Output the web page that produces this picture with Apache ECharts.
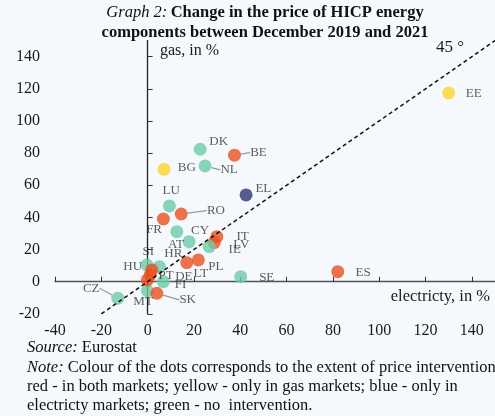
<!DOCTYPE html>
<html><head><meta charset="utf-8">
<script src="https://cdn.jsdelivr.net/npm/echarts@6/dist/echarts.min.js"></script>
<style>html,body{margin:0;padding:0;background:#f5f9fd;}#c{width:495px;height:416px;}</style>
</head><body><div id="c"></div>
<script>
// ---- data ----
const countries = ['EE','DK','BE','BG','NL','EL','LU','RO','FR','CY','AT','IT','LV','IE','PL','LT','SE','ES','CZ','MT','SK','FI','DE','HU','SI','PT','HR'];
const electricity = [130, 22.7, 37.5, 7.1, 24.8, 42.5, 9.4, 14.5, 6.8, 12.6, 17.9, 29.9, 28.7, 26.6, 21.9, 16.9, 40.2, 82.1, -12.9, -0.1, 4.0, 6.8, 5.1, -0.3, 1.8, 1.1, -0.1];
const gas =         [117.4, 82.4, 78.7, 69.9, 72, 54, 47.1, 42.1, 39, 31.1, 24.9, 28, 24.3, 21.8, 13.5, 11.8, 3.1, 6.2, -10.3, -5.6, -7.2, 0, 9.3, 10.4, 7.3, 4.2, 1.1];
// intervention: r = both markets, y = only gas, b = only electricity, g = none
const intervention = ['y','g','r','y','g','b','g','r','r','g','g','r','r','g','r','r','g','r','g','g','r','g','g','g','r','r','r'];
const xTicks = [-40, -20, 0, 20, 40, 60, 80, 100, 120, 140];
const yTicks = [-20, 0, 20, 40, 60, 80, 100, 120, 140];
const diagonalRange = [-20, 150];

// ---- styling (label placement relative to dot centre, px) ----
const labelOffsets = {
  EE:[25,1], DK:[18.5,-7.6], BE:[24,-2.6], BG:[22.7,-1.6], NL:[24,4], EL:[17.3,-6.7],
  LU:[1.7,-15], RO:[34.7,-3.3], FR:[-9.3,11], CY:[23.3,-0.7], AT:[-13.2,3.3], IT:[25.8,0],
  LV:[27.3,1.6], IE:[25.5,2.6], PL:[17.5,6.7], LT:[14,11.3], SE:[26,1], ES:[25.3,1],
  CZ:[-26.5,-10], MT:[-4.3,11], SK:[30.8,6.7], FI:[17.2,3.3], DE:[24.4,10], HU:[-14.2,1.7],
  SI:[-3.4,-18.3], PT:[16,1], HR:[26,-26]
};
const leader = {BE:true, NL:true, RO:true, CZ:true, SK:true};
const colors = {r:'#e9501d', y:'#fdd22b', b:'#2d3572', g:'#6dcaa7'};
const SERIF = '"Liberation Serif","Times New Roman",serif';

const points = countries.map((c,i)=>({
  name: c,
  value: [electricity[i], gas[i]],
  itemStyle: {color: colors[intervention[i]]},
  label: {offset: labelOffsets[c]},
  labelLine: {show: !!leader[c]}
}));

const chart = echarts.init(document.getElementById('c'));
const labelAxisX = {type:'value', min:-40, max:150, interval:20, position:'bottom',
  axisLine:{show:false, onZero:false}, axisTick:{show:false}, splitLine:{show:false},
  axisLabel:{fontFamily:SERIF, fontSize:16, color:'#1a1a1a', margin:9, showMaxLabel:false}};
const lineAxisX = {type:'value', min:-40, max:150, interval:20, position:'bottom',
  axisLine:{show:true, onZero:true, onZeroAxisIndex:0, lineStyle:{color:'#555', width:1.3}},
  axisTick:{show:true, inside:true, length:5, customValues:xTicks, lineStyle:{color:'#333', width:1}},
  axisLabel:{show:false}, splitLine:{show:false}};
const labelAxisY = {type:'value', min:-20, max:150, interval:20, position:'left',
  axisLine:{show:false, onZero:false}, axisTick:{show:false}, splitLine:{show:false},
  axisLabel:{fontFamily:SERIF, fontSize:16, color:'#1a1a1a', margin:15, showMaxLabel:false}};
const lineAxisY = {type:'value', min:-20, max:150, interval:20, position:'left',
  axisLine:{show:true, onZero:true, onZeroAxisIndex:0, lineStyle:{color:'#222', width:1.3}},
  axisTick:{show:true, inside:true, length:5, customValues:yTicks, lineStyle:{color:'#333', width:1}},
  axisLabel:{show:false}, splitLine:{show:false}};

const noteFont = '16.5px ' + SERIF;
const italicRich = {i:{fontStyle:'italic', fontFamily:SERIF, fontSize:16.5, fill:'#111'}};

chart.setOption({
  backgroundColor:'#f5f9fd',
  animation:false,
  grid:{left:55, right:0, top:40.6, bottom:102.2, containLabel:false},
  xAxis:[labelAxisX, lineAxisX],
  yAxis:[labelAxisY, lineAxisY],
  series:[
    {type:'scatter', xAxisIndex:0, yAxisIndex:0, symbolSize:13, data:points,
      label:{show:true, position:'inside', formatter:p=>p.name, fontFamily:SERIF, fontSize:13,
        color:'#333', textBorderWidth:0, align:'center', verticalAlign:'middle'},
      labelLine:{show:false, lineStyle:{color:'#9a9a9a', width:1.2}},
      emphasis:{disabled:true}, z:3},
    {type:'line', xAxisIndex:0, yAxisIndex:0, symbol:'none', silent:true,
      data: diagonalRange.map(v=>[v,v]),
      lineStyle:{color:'#111', width:1.5, type:[4,3]}, z:4}
  ],
  graphic:[
    {type:'text', x:265, y:3, style:{
      text:'{i|Graph 2:} {b|Change in the price of HICP energy}\n{b|components between December 2019 and 2021}',
      align:'center', rich:{
        i:{fontFamily:SERIF, fontStyle:'italic', fontSize:16.5, fill:'#111', lineHeight:19.5},
        b:{fontFamily:SERIF, fontWeight:'bold', fontSize:16.5, fill:'#111', lineHeight:19.5}
      }}},
    {type:'text', x:160, y:43, style:{text:'gas, in %', font:'16px '+SERIF, fill:'#1a1a1a'}},
    {type:'text', x:490, y:288, style:{text:'electricty, in %', font:'16.5px '+SERIF, fill:'#1a1a1a', align:'right'}},
    {type:'text', x:436, y:39, style:{text:'45 °', font:'17px '+SERIF, fill:'#1a1a1a'}},
    {type:'text', x:27, y:339, style:{text:'{i|Source:} Eurostat', font:noteFont, fill:'#111', rich:italicRich}},
    {type:'text', x:27, y:359, style:{text:'{i|Note:} Colour of the dots corresponds to the extent of price intervention:', font:noteFont, fill:'#111', rich:italicRich}},
    {type:'text', x:27, y:378, style:{text:'red - in both markets; yellow - only in gas markets; blue - only in', font:noteFont, fill:'#111'}},
    {type:'text', x:27, y:397, style:{text:'electricty markets; green - no  intervention.', font:noteFont, fill:'#111'}}
  ]
});
</script></body></html>
